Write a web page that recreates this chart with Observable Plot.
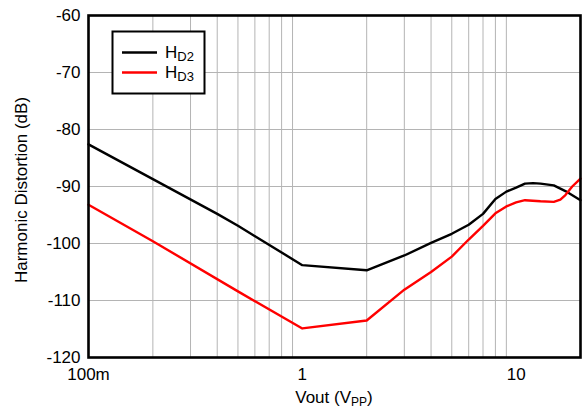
<!DOCTYPE html>
<html>
<head>
<meta charset="utf-8">
<script src="https://cdn.jsdelivr.net/npm/d3@7"></script>
<script src="https://cdn.jsdelivr.net/npm/@observablehq/plot@0.6"></script>
<style>
  html, body { margin: 0; padding: 0; background: #fff; }
  #chart { position: relative; width: 585px; height: 411px; }
</style>
</head>
<body>
<div id="chart"></div>
<script>
// ---- data ----
const hd2X = [0.1, 0.2, 0.4, 0.5, 1, 2, 3, 4, 5, 6, 7, 8, 9, 10, 11, 12, 13, 15, 17, 20];
const hd2Y = [-82.6, -88.7, -94.8, -96.9, -103.8, -104.7, -102.1, -99.9, -98.3, -96.7, -94.8, -92.2, -90.9, -90.2, -89.5, -89.4, -89.5, -89.8, -90.8, -92.4];
const hd3X = [0.1, 0.2, 0.5, 1, 2, 3, 4, 5, 6, 7, 8, 9, 10, 11, 13, 15, 16.1, 17, 18.3, 20];
const hd3Y = [-93.2, -99.6, -108.4, -114.9, -113.5, -108.1, -105.0, -102.3, -99.3, -96.9, -94.7, -93.5, -92.8, -92.4, -92.6, -92.7, -92.3, -91.5, -90.0, -88.6];
const xTicks = [0.1, 1, 10];
const xTickLabels = ["100m", "1", "10"];
const xGrid = [0.2, 0.3, 0.4, 0.5, 0.6, 0.7, 0.8, 0.9, 2, 3, 4, 5, 6, 7, 8, 9];
const yTicks = [-120, -110, -100, -90, -80, -70, -60];
const yGrid = [-110, -100, -90, -80, -70];
const seriesNames = ["HD2", "HD3"];
const seriesSubs = ["D2", "D3"];
const seriesColors = ["#000000", "#ff0000"];

const hd2 = hd2X.map((x, i) => ({x, y: hd2Y[i]}));
const hd3 = hd3X.map((x, i) => ({x, y: hd3Y[i]}));

const W = 585, H = 411;
const mL = 88, mR = 5, mT = 15, mB = 54;
const FONT = "'Liberation Sans', Arial, sans-serif";

const svg = Plot.plot({
  width: W, height: H,
  marginLeft: mL, marginRight: mR, marginTop: mT, marginBottom: mB,
  style: {fontFamily: FONT, fontSize: "17px", color: "#000", background: "#fff"},
  x: {type: "log", domain: [0.1, 20]},
  y: {domain: [-120, -60]},
  marks: [
    Plot.ruleX(xGrid, {stroke: "#b4b4b4", strokeWidth: 1}),
    Plot.ruleY(yGrid, {stroke: "#b4b4b4", strokeWidth: 1}),
    Plot.line(hd2, {x: "x", y: "y", stroke: seriesColors[0], strokeWidth: 2.4}),
    Plot.line(hd3, {x: "x", y: "y", stroke: seriesColors[1], strokeWidth: 2.4}),
    Plot.frame({stroke: "#000", strokeWidth: 2.6}),
    Plot.axisX({ticks: xTicks, tickFormat: d => xTickLabels[xTicks.indexOf(d)], tickSize: 0, tickPadding: 10, label: null, fontSize: 17}),
    Plot.axisY({ticks: yTicks, tickFormat: d => String(d), tickSize: 0, tickPadding: 8, label: null, fontSize: 17})
  ]
});
document.getElementById("chart").appendChild(svg);

const s = d3.select(svg);
const plotCx = mL + (W - mL - mR) / 2;
const plotCy = mT + (H - mT - mB) / 2;

// x axis title with subscript
const xt = s.append("text")
  .attr("x", plotCx).attr("y", 403)
  .attr("text-anchor", "middle")
  .attr("font-family", FONT).attr("font-size", 17).attr("fill", "#000");
xt.append("tspan").text("Vout (V");
xt.append("tspan").attr("font-size", 12).attr("dy", 3).text("PP");
xt.append("tspan").attr("dy", -3).text(")");

// y axis title
s.append("text")
  .attr("transform", `translate(27,${plotCy + 4}) rotate(-90)`)
  .attr("text-anchor", "middle")
  .attr("font-family", FONT).attr("font-size", 17).attr("fill", "#000")
  .text("Harmonic Distortion (dB)");

// legend
const lg = s.append("g");
lg.append("rect").attr("x", 112.5).attr("y", 31.5).attr("width", 92).attr("height", 62)
  .attr("fill", "#fff").attr("stroke", "#000").attr("stroke-width", 2);
seriesNames.forEach((n, i) => {
  const yy = 52.5 + i * 20;
  lg.append("line").attr("x1", 122).attr("x2", 157).attr("y1", yy).attr("y2", yy)
    .attr("stroke", seriesColors[i]).attr("stroke-width", 2.4);
  const t = lg.append("text").attr("x", 165).attr("y", yy + 5)
    .attr("text-anchor", "start")
    .attr("font-family", FONT).attr("font-size", 17).attr("fill", "#000");
  t.append("tspan").text("H");
  t.append("tspan").attr("font-size", 13).attr("dy", 3).text(seriesSubs[i]);
});
</script>
</body>
</html>
